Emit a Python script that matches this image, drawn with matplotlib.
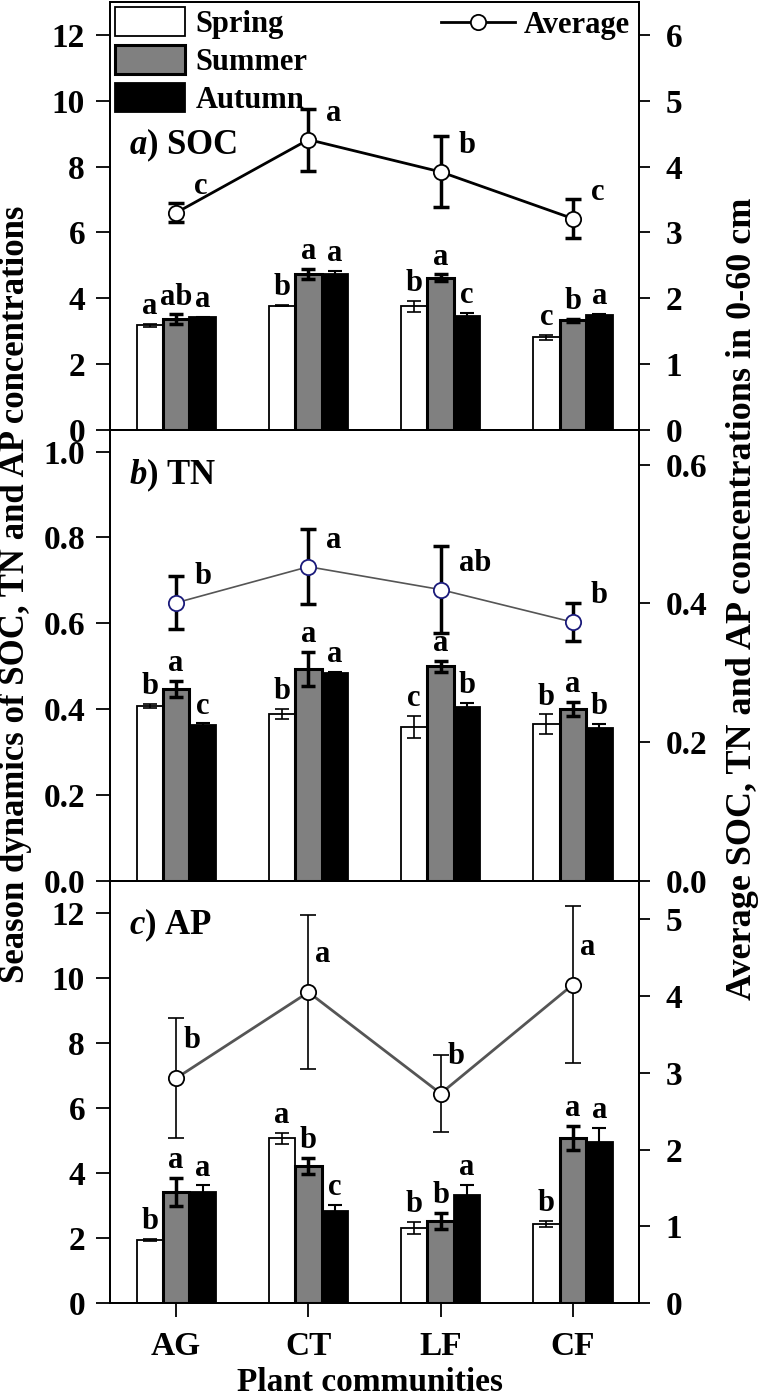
import numpy as np
import matplotlib
matplotlib.use('Agg')
import matplotlib.pyplot as plt

plt.rcParams['font.family'] = ['Liberation Serif', 'DejaVu Serif']
plt.rcParams['font.weight'] = 'bold'
plt.rcParams['mathtext.fontset'] = 'custom'
plt.rcParams['mathtext.it'] = 'Liberation Serif:italic:bold'
plt.rcParams['mathtext.rm'] = 'Liberation Serif:bold'

communities = ['AG', 'CT', 'LF', 'CF']
seasons = ['Spring', 'Summer', 'Autumn']

# a) SOC
soc_spring = [3.18, 3.78, 3.76, 2.82]
soc_summer = [3.36, 4.74, 4.63, 3.33]
soc_autumn = [3.42, 4.73, 3.45, 3.49]
soc_spring_err = [0.05, 0.02, 0.16, 0.08]
soc_summer_err = [0.15, 0.15, 0.10, 0.05]
soc_autumn_err = [0.02, 0.10, 0.10, 0.03]
soc_avg = [3.30, 4.41, 3.92, 3.21]
soc_avg_err = [0.14, 0.47, 0.54, 0.30]
soc_letters = [['a', 'b', 'b', 'c'], ['ab', 'a', 'a', 'b'], ['a', 'a', 'c', 'a']]
soc_avg_letters = ['c', 'a', 'b', 'c']

# b) TN
tn_spring = [0.407, 0.388, 0.359, 0.365]
tn_summer = [0.447, 0.493, 0.500, 0.400]
tn_autumn = [0.363, 0.484, 0.405, 0.356]
tn_spring_err = [0.005, 0.012, 0.025, 0.023]
tn_summer_err = [0.018, 0.040, 0.013, 0.017]
tn_autumn_err = [0.004, 0.002, 0.010, 0.010]
tn_avg = [0.401, 0.453, 0.420, 0.373]
tn_avg_err = [0.038, 0.054, 0.063, 0.027]
tn_letters = [['b', 'b', 'c', 'b'], ['a', 'a', 'a', 'a'], ['c', 'a', 'b', 'b']]
tn_avg_letters = ['b', 'a', 'ab', 'b']

# c) AP
ap_spring = [1.94, 5.08, 2.31, 2.43]
ap_summer = [3.42, 4.22, 2.53, 5.08]
ap_autumn = [3.42, 2.83, 3.32, 4.97]
ap_spring_err = [0.03, 0.17, 0.19, 0.10]
ap_summer_err = [0.43, 0.26, 0.24, 0.37]
ap_autumn_err = [0.20, 0.20, 0.33, 0.43]
ap_avg = [2.93, 4.05, 2.73, 4.15]
ap_avg_err = [0.78, 1.00, 0.50, 1.02]
ap_letters = [['b', 'a', 'b', 'b'], ['a', 'b', 'b', 'a'], ['a', 'c', 'a', 'a']]
ap_avg_letters = ['b', 'a', 'b', 'a']

bar_colors = ['white', '#808080', 'black']
bar_edge_lw = [1.3, 2.2, 1.3]
err_lw = [1.2, 2.5, 1.5]
FS = 24
LFS = 22


def draw_panel(ax, bars, errs, letters, avg, avg_err, avg_letters,
               ylim, ylim2, yticks, yticks2, fmt, fmt2, title, title_y,
               line_color, line_lw, marker_edge, avg_err_lw, avg_letter_off):
    x = np.arange(len(communities))
    width = 0.2
    for i, (vals, err) in enumerate(zip(bars, errs)):
        pos = x + (i - 1) * width
        ax.bar(pos, vals, width, color=bar_colors[i], edgecolor='black',
               linewidth=bar_edge_lw[i], label=seasons[i], zorder=2)
        ax.errorbar(pos, vals, yerr=err, fmt='none', ecolor='black',
                    elinewidth=err_lw[i], capsize=5, capthick=err_lw[i], zorder=3)
        for p, v, e, lab in zip(pos, vals, err, letters[i]):
            ax.annotate(lab, (p, v + e), xytext=(0, 2), textcoords='offset points',
                        ha='center', va='bottom', fontsize=LFS, fontweight='bold')
    ax.set_xlim(-0.5, 3.5)
    ax.set_ylim(*ylim)
    ax.set_yticks(yticks)
    ax.set_yticklabels([fmt.format(t) for t in yticks])
    ax.tick_params(axis='y', direction='out', length=10, width=1.3, pad=8, labelsize=FS)
    ax.tick_params(axis='x', bottom=False, labelbottom=False)

    ax2 = ax.twinx()
    ax2.errorbar(x, avg, yerr=avg_err, fmt='none', ecolor='black',
                 elinewidth=avg_err_lw, capsize=5.5, capthick=avg_err_lw, zorder=3)
    ax2.plot(x, avg, '-o', color=line_color, lw=line_lw, markersize=11,
             markerfacecolor='white', markeredgecolor=marker_edge,
             markeredgewidth=1.3, label='Average', zorder=4)
    for xi, v, lab in zip(x, avg, avg_letters):
        ax2.annotate(lab, (xi, v), xytext=avg_letter_off, textcoords='offset points',
                     ha='left', va='center', fontsize=LFS, fontweight='bold')
    ax2.set_ylim(*ylim2)
    ax2.set_yticks(yticks2)
    ax2.set_yticklabels([fmt2.format(t) for t in yticks2])
    ax2.tick_params(axis='y', direction='out', length=8, width=1.3, pad=11, labelsize=FS)
    for a in (ax, ax2):
        for s in a.spines.values():
            s.set_linewidth(1.3)
    ax.text(0.036, title_y, title, transform=ax.transAxes, fontsize=25,
            fontweight='bold', ha='left', va='center')
    return ax2


fig = plt.figure(figsize=(7.59, 13.99), dpi=100)
left, width = 0.145, 0.697
ax_a = fig.add_axes([left, 0.6926, width, 0.3060])
ax_b = fig.add_axes([left, 0.3703, width, 0.3223])
ax_c = fig.add_axes([left, 0.0686, width, 0.3017])

ax_a2 = draw_panel(ax_a, [soc_spring, soc_summer, soc_autumn],
                   [soc_spring_err, soc_summer_err, soc_autumn_err],
                   soc_letters, soc_avg, soc_avg_err, soc_avg_letters,
                   (0, 13), (0, 6.5), np.arange(0, 13, 2), np.arange(0, 7, 1),
                   '{:.0f}', '{:.0f}', r'$\mathit{a}$) SOC', 0.664,
                   'black', 2.0, 'black', 2.5, (13, 19))
ax_b2 = draw_panel(ax_b, [tn_spring, tn_summer, tn_autumn],
                   [tn_spring_err, tn_summer_err, tn_autumn_err],
                   tn_letters, tn_avg, tn_avg_err, tn_avg_letters,
                   (0, 1.05), (0, 0.65), np.arange(0, 1.01, 0.2), np.arange(0, 0.61, 0.2),
                   '{:.1f}', '{:.1f}', r'$\mathit{b}$) TN', 0.90,
                   '#555555', 1.2, '#1a1a7a', 2.5, (13, 19))
ax_c2 = draw_panel(ax_c, [ap_spring, ap_summer, ap_autumn],
                   [ap_spring_err, ap_summer_err, ap_autumn_err],
                   ap_letters, ap_avg, ap_avg_err, ap_avg_letters,
                   (0, 13), (0, 5.5), np.arange(0, 13, 2), np.arange(0, 6, 1),
                   '{:.0f}', '{:.0f}', r'$\mathit{c}$) AP', 0.894,
                   '#555555', 2.0, 'black', 1.2, (5, 27))

ax_c.tick_params(axis='x', bottom=True, labelbottom=True, direction='out',
                 length=10, width=1.3, pad=10, labelsize=FS)
ax_c.set_xticks(np.arange(len(communities)))
ax_c.set_xticklabels(communities)

# legends
ax_a.legend(loc='upper left', bbox_to_anchor=(0.0, 1.0), frameon=False, fontsize=22,
            handlelength=2.3, handleheight=1.1, handletextpad=0.35,
            labelspacing=0.2, borderaxespad=0.05, borderpad=0.1)
ax_a2.legend(loc='upper right', bbox_to_anchor=(1.0, 1.0), frameon=False, fontsize=22,
             handlelength=2.4, handletextpad=0.3, borderaxespad=0.1, borderpad=0.2)

fig.text(0.02, 0.575, 'Season dynamics of SOC, TN and AP concentrations',
         rotation=90, ha='center', va='center', fontsize=25, fontweight='bold')
fig.text(0.978, 0.572, 'Average SOC, TN and AP concentrations in 0-60 cm',
         rotation=90, ha='center', va='center', fontsize=26, fontweight='bold')
fig.text(0.487, 0.012, 'Plant communities', ha='center', va='center',
         fontsize=24, fontweight='bold')

fig.savefig('out.png', dpi=100)
